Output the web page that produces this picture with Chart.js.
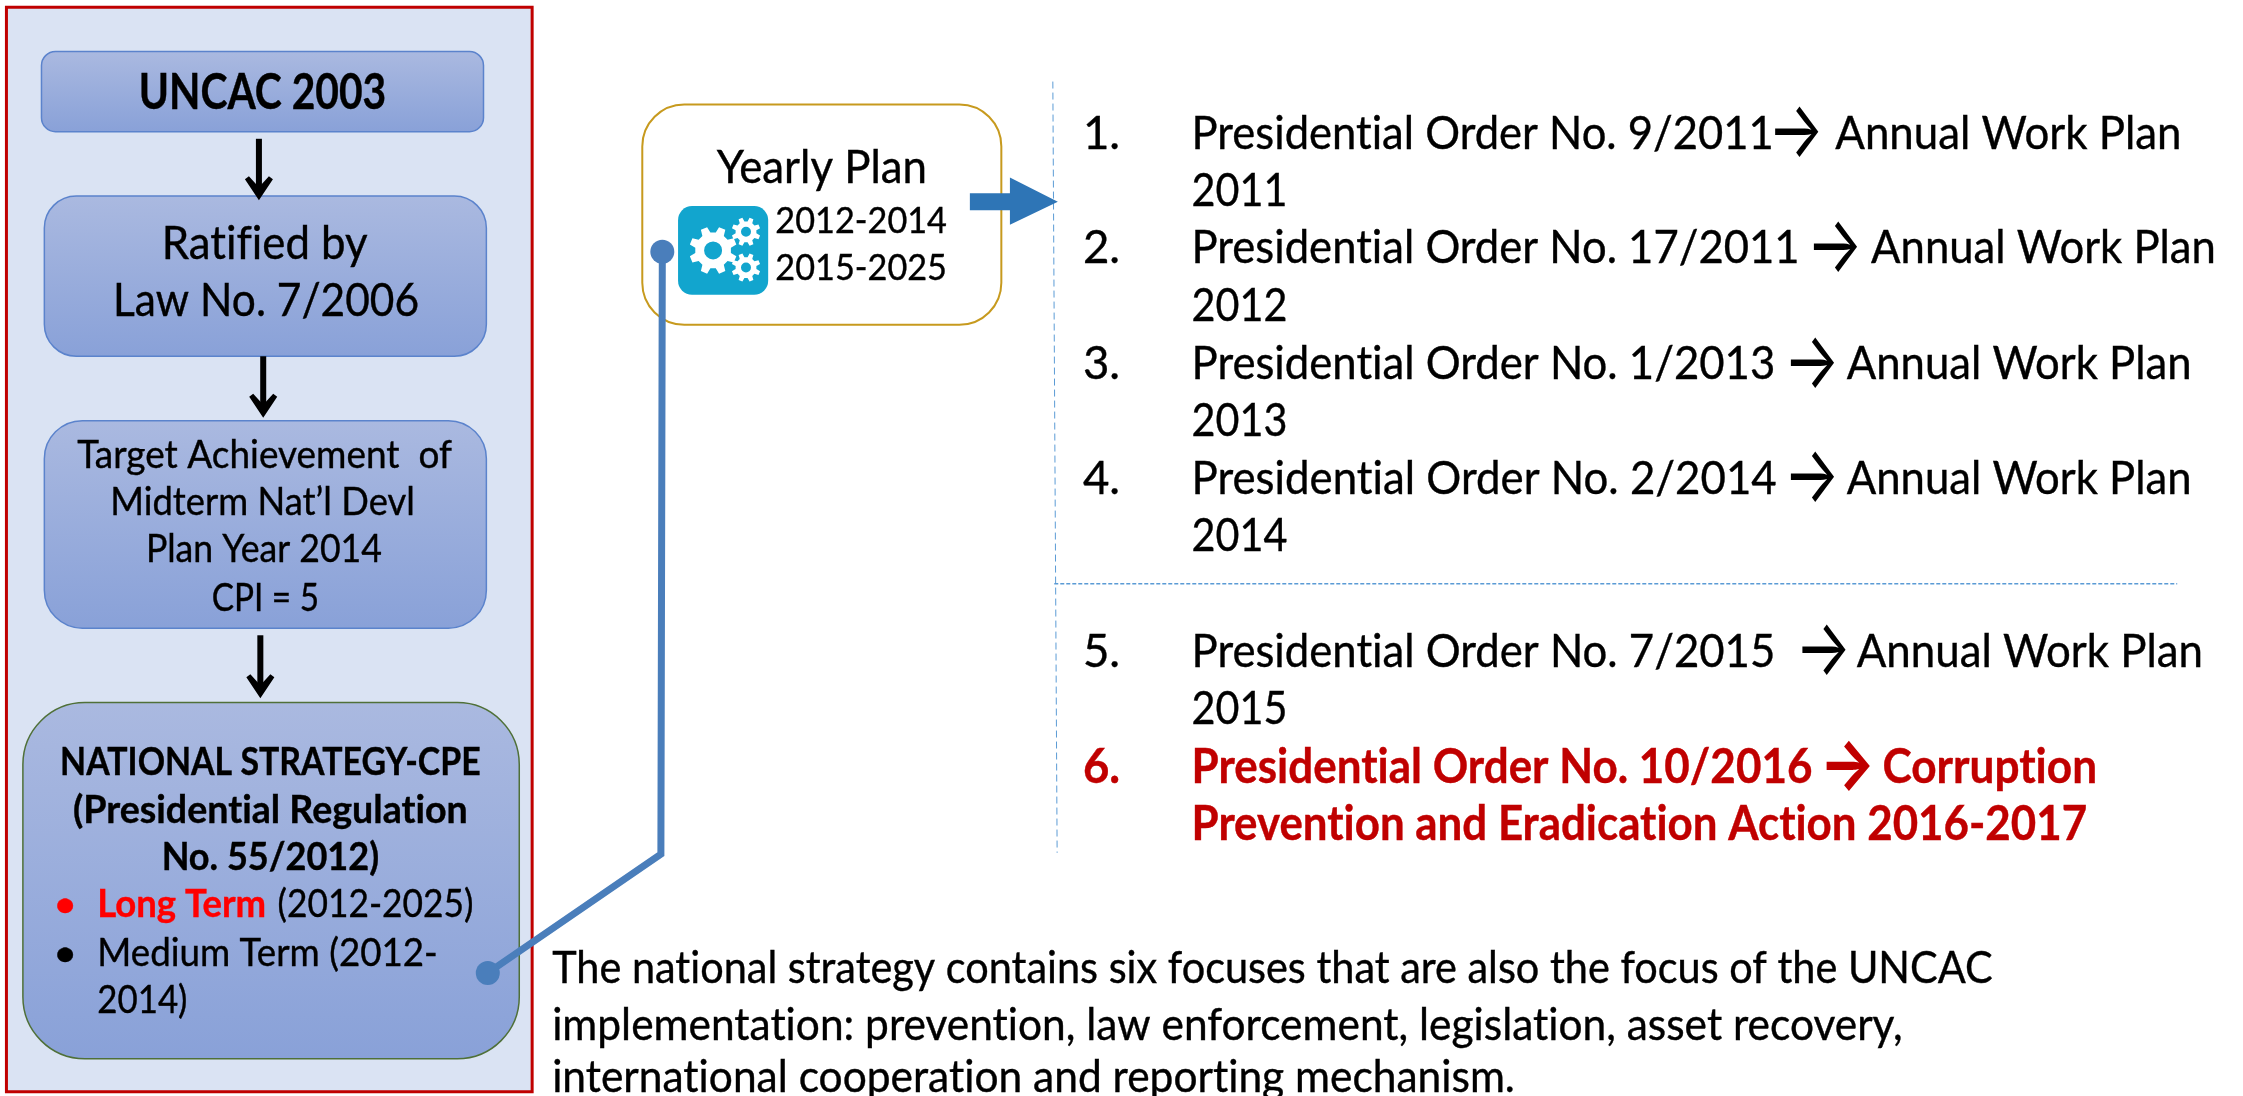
<!DOCTYPE html>
<html>
<head>
<meta charset="utf-8">
<title>UNCAC national strategy</title>
<script src="https://cdn.jsdelivr.net/npm/chart.js@4/dist/chart.umd.min.js"></script>
<style>
    html, body { margin: 0; padding: 0; background: #fff; }
    canvas { display: block; }
</style>
</head>
<body>
<canvas id="flowChart" width="2243" height="1096"></canvas>
<script>
// texts
const flowLabels = ['UNCAC 2003', 'Ratified by', 'Law No. 7/2006'];
const targetLabels = ['Target Achievement  of', 'Midterm Nat\u2019l Devl', 'Plan Year 2014', 'CPI = 5'];
const strategyLabels = ['NATIONAL STRATEGY-CPE', '(Presidential Regulation', 'No. 55/2012)'];
const termLabels = ['Long Term', '(2012-2025)', 'Medium Term (2012-', '2014)'];
const planLabels = ['Yearly Plan', '2012-2014', '2015-2025'];
const orderNumbers = ['1.', '2.', '3.', '4.', '5.', '6.'];
const orderLabels = ['Presidential Order No. 9/2011', 'Presidential Order No. 17/2011', 'Presidential Order No. 1/2013',
    'Presidential Order No. 2/2014', 'Presidential Order No. 7/2015', 'Presidential Order No. 10/2016'];
const orderResults = ['Annual Work Plan', 'Annual Work Plan', 'Annual Work Plan', 'Annual Work Plan', 'Annual Work Plan', 'Corruption'];
const orderYears = ['2011', '2012', '2013', '2014', '2015', 'Prevention and Eradication Action 2016-2017'];
const noteLines = ['The national strategy contains six focuses that are also the focus of the UNCAC',
    'implementation: prevention, law enforcement, legislation, asset recovery,',
    'international cooperation and reporting mechanism.'];

// line marks, in the 1568x766 coordinates of the axes
const connectorX = [463, 462, 341];
const connectorY = [176, 597, 680];
const listDividerX = [736, 739];
const listDividerY = [57, 596];
const groupDividerX = [737, 1522];
const groupDividerY = [408, 408];

// list rows
const orderBaselines = [104, 184, 265, 345, 466, 547];
const yearBaselines = [144, 224, 305, 385, 506, 587];
const orderEnds = [1240, 1258, 1241, 1242, 1241, 1267];
const arrowStarts = [1241, 1268, 1252, 1252, 1260, 1277];
const resultStarts = [1283, 1308, 1291, 1291, 1298, 1316];
const resultEnds = [1525, 1549, 1532, 1532, 1540, 1466];
const yearEnds = [900, 900, 900, 900, 900, 1459];

const FONT = 'Lato, Carlito, sans-serif';
const RED = '#C00000';

function fitText(ctx, chart, text, x1, x2, base, font, color) {
    const sx = chart.scales.x, sy = chart.scales.y;
    const left = sx.getPixelForValue(x1), right = sx.getPixelForValue(x2);
    ctx.save();
    ctx.font = font;
    ctx.fillStyle = color || '#000';
    ctx.strokeStyle = color || '#000';
    ctx.lineWidth = 0.4;
    ctx.textBaseline = 'alphabetic';
    ctx.textAlign = 'left';
    ctx.textRendering = 'optimizeSpeed';
    const w = ctx.measureText(text).width;
    ctx.translate(left, sy.getPixelForValue(base));
    ctx.scale((right - left) / w, 1);
    ctx.fillText(text, 0, 0);
    ctx.strokeText(text, 0, 0);
    ctx.restore();
}

// arrow glyph stretched so its ink fills the given box
function arrowGlyph(ctx, chart, x1, x2, top, bottom, color, bold) {
    const sx = chart.scales.x, sy = chart.scales.y;
    const left = sx.getPixelForValue(x1), right = sx.getPixelForValue(x2);
    const up = sy.getPixelForValue(top), down = sy.getPixelForValue(bottom);
    ctx.save();
    ctx.font = (bold ? 'bold ' : '') + '48px Inter';
    ctx.fillStyle = color;
    ctx.textBaseline = 'alphabetic';
    const m = ctx.measureText('\u2192');
    const inkW = m.actualBoundingBoxRight + m.actualBoundingBoxLeft;
    const inkH = m.actualBoundingBoxAscent + m.actualBoundingBoxDescent;
    ctx.translate(left, up);
    ctx.scale((right - left) / inkW, (down - up) / inkH);
    ctx.fillText('\u2192', m.actualBoundingBoxLeft, m.actualBoundingBoxAscent);
    ctx.restore();
}

function roundBox(ctx, chart, x1, y1, x2, y2, radius, fill, stroke, lw) {
    const sx = chart.scales.x, sy = chart.scales.y;
    const left = sx.getPixelForValue(x1), top = sy.getPixelForValue(y1);
    const w = sx.getPixelForValue(x2) - left, h = sy.getPixelForValue(y2) - top;
    ctx.beginPath();
    ctx.roundRect(left, top, w, h, radius);
    if (fill === 'gradient') {
        const g = ctx.createLinearGradient(0, top, 0, top + h);
        g.addColorStop(0, '#AAB9E0');
        g.addColorStop(1, '#89A1D8');
        ctx.fillStyle = g;
    } else {
        ctx.fillStyle = fill;
    }
    ctx.fill();
    if (stroke) {
        ctx.strokeStyle = stroke;
        ctx.lineWidth = lw;
        ctx.stroke();
    }
}

function downArrow(ctx, chart, x, y1, y2) {
    const px = chart.scales.x.getPixelForValue(x);
    const top = chart.scales.y.getPixelForValue(y1);
    const tip = chart.scales.y.getPixelForValue(y2);
    ctx.fillStyle = '#000';
    ctx.fillRect(px - 3, top, 6, tip - top - 12);
    ctx.beginPath();
    ctx.moveTo(px, tip);
    ctx.lineTo(px - 14, tip - 21);
    ctx.lineTo(px - 10, tip - 24);
    ctx.lineTo(px, tip - 13);
    ctx.lineTo(px + 10, tip - 24);
    ctx.lineTo(px + 14, tip - 21);
    ctx.closePath();
    ctx.fill();
}

function gear(ctx, chart, x, y, outer, inner, hole) {
    const cx = chart.scales.x.getPixelForValue(x), cy = chart.scales.y.getPixelForValue(y);
    const teeth = 8;
    ctx.beginPath();
    for (let i = 0; i < teeth; i++) {
        const a = (i / teeth) * Math.PI * 2 + Math.PI / 8;
        const step = Math.PI / teeth;
        ctx.lineTo(cx + inner * Math.cos(a - step * 0.62), cy + inner * Math.sin(a - step * 0.62));
        ctx.lineTo(cx + outer * Math.cos(a - step * 0.36), cy + outer * Math.sin(a - step * 0.36));
        ctx.lineTo(cx + outer * Math.cos(a + step * 0.36), cy + outer * Math.sin(a + step * 0.36));
        ctx.lineTo(cx + inner * Math.cos(a + step * 0.62), cy + inner * Math.sin(a + step * 0.62));
    }
    ctx.closePath();
    ctx.moveTo(cx + hole, cy);
    ctx.arc(cx, cy, hole, 0, Math.PI * 2, true);
    ctx.fillStyle = '#fff';
    ctx.fill('evenodd');
}

const diagramBack = {
    id: 'diagramBack',
    beforeDatasetsDraw(chart) {
        const ctx = chart.ctx;
        ctx.save();
        roundBox(ctx, chart, 4.5, 5, 372, 763, 0, '#DAE3F3', RED, 3);
        roundBox(ctx, chart, 29, 36, 338, 92, 14, 'gradient', '#5B83CC', 1.5);
        roundBox(ctx, chart, 31, 137, 340, 249, 32, 'gradient', '#5B83CC', 1.5);
        roundBox(ctx, chart, 31, 294, 340, 439, 38, 'gradient', '#5B83CC', 1.5);
        roundBox(ctx, chart, 16, 491, 363, 740, 62, 'gradient', '#4F7038', 1.5);
        roundBox(ctx, chart, 449, 73, 700, 227, 42, '#fff', '#C79A1E', 2);

        downArrow(ctx, chart, 181, 97, 140);
        downArrow(ctx, chart, 184, 249, 292);
        downArrow(ctx, chart, 182, 444, 488);

        // gear icon
        roundBox(ctx, chart, 474, 144, 537, 206, 14, '#12A5CE');
        gear(ctx, chart, 498.5, 175, 24, 18, 9);
        gear(ctx, chart, 521.5, 162, 14.5, 10.5, 5);
        gear(ctx, chart, 521.5, 187, 14.5, 10.5, 5);
        ctx.restore();
    },
    afterDatasetsDraw(chart) {
        const ctx = chart.ctx;
        const sx = chart.scales.x, sy = chart.scales.y;
        // block arrow out of the yearly plan box
        const blockX = [678, 706, 706, 739.5, 706, 706, 678];
        const blockY = [135, 135, 124, 141, 157, 147, 147];
        ctx.save();
        ctx.beginPath();
        blockX.forEach((x, i) => ctx.lineTo(sx.getPixelForValue(x), sy.getPixelForValue(blockY[i])));
        ctx.closePath();
        ctx.fillStyle = '#2E75B6';
        ctx.fill();

        const big = '47px ' + FONT, mid = '39px ' + FONT, note = '44px ' + FONT;
        const midBold = 'bold 39px ' + FONT;
        fitText(ctx, chart, flowLabels[0], 97, 270, 76, 'bold 50px ' + FONT);
        fitText(ctx, chart, flowLabels[1], 113, 257, 181, big);
        fitText(ctx, chart, flowLabels[2], 79, 293, 221, big);

        fitText(ctx, chart, targetLabels[0], 54, 316, 327, mid);
        fitText(ctx, chart, targetLabels[1], 77, 290, 360, mid);
        fitText(ctx, chart, targetLabels[2], 102, 267, 393, mid);
        fitText(ctx, chart, targetLabels[3], 148, 223, 427, mid);

        fitText(ctx, chart, strategyLabels[0], 42, 336, 542, midBold);
        fitText(ctx, chart, strategyLabels[1], 51, 327, 575, midBold);
        fitText(ctx, chart, strategyLabels[2], 113, 265, 608, midBold);
        fitText(ctx, chart, '\u2022', 37, 54, 641, mid, '#FF0000');
        fitText(ctx, chart, termLabels[0], 68, 186, 641, midBold, '#FF0000');
        fitText(ctx, chart, termLabels[1], 194, 331, 641, mid);
        fitText(ctx, chart, '\u2022', 37, 54, 675, mid);
        fitText(ctx, chart, termLabels[2], 68, 306, 675, mid);
        fitText(ctx, chart, termLabels[3], 68, 131, 708, mid);

        fitText(ctx, chart, planLabels[0], 501, 648, 128, big);
        fitText(ctx, chart, planLabels[1], 542, 662, 163, '36px ' + FONT);
        fitText(ctx, chart, planLabels[2], 542, 662, 196, '36px ' + FONT);

        orderLabels.forEach((label, i) => {
            const last = i === orderLabels.length - 1;
            const font = (last ? 'bold ' : '') + big;
            const color = last ? RED : '#000';
            const base = orderBaselines[i];
            fitText(ctx, chart, orderNumbers[i], 757, 783, base, font, color);
            fitText(ctx, chart, label, 833, orderEnds[i], base, font, color);
            arrowGlyph(ctx, chart, arrowStarts[i], arrowStarts[i] + 31, base - 30, base + 6, color, last);
            fitText(ctx, chart, orderResults[i], resultStarts[i], resultEnds[i], base, font, color);
            fitText(ctx, chart, orderYears[i], 833, yearEnds[i], yearBaselines[i], font, color);
        });

        fitText(ctx, chart, noteLines[0], 386, 1393, 687, note);
        fitText(ctx, chart, noteLines[1], 386, 1330, 727, note);
        fitText(ctx, chart, noteLines[2], 386, 1059, 763, note);
        ctx.restore();
    }
};

const toPoints = (xs, ys) => xs.map((x, i) => ({ x: x, y: ys[i] }));

new Chart(document.getElementById('flowChart').getContext('2d'), {
    type: 'scatter',
    data: {
        datasets: [
            {
                data: toPoints(listDividerX, listDividerY),
                showLine: true,
                borderColor: '#5B9BD5',
                borderWidth: 1,
                borderDash: [7, 4],
                pointRadius: 0
            },
            {
                data: toPoints(groupDividerX, groupDividerY),
                showLine: true,
                borderColor: '#5B9BD5',
                borderWidth: 1.5,
                borderDash: [4, 2],
                pointRadius: 0
            },
            {
                data: toPoints(connectorX, connectorY),
                showLine: true,
                borderColor: '#4A7EBB',
                borderWidth: 7,
                pointBackgroundColor: '#4A7EBB',
                pointBorderWidth: 0,
                pointRadius: [12, 0, 12]
            }
        ]
    },
    plugins: [diagramBack],
    options: {
        responsive: false,
        animation: false,
        events: [],
        layout: { padding: 0, autoPadding: false },
        plugins: { legend: { display: false }, tooltip: { enabled: false } },
        scales: {
            x: { type: 'linear', min: 0, max: 1568, display: false },
            y: { type: 'linear', min: 0, max: 766, reverse: true, display: false }
        }
    }
});
</script>
</body>
</html>
